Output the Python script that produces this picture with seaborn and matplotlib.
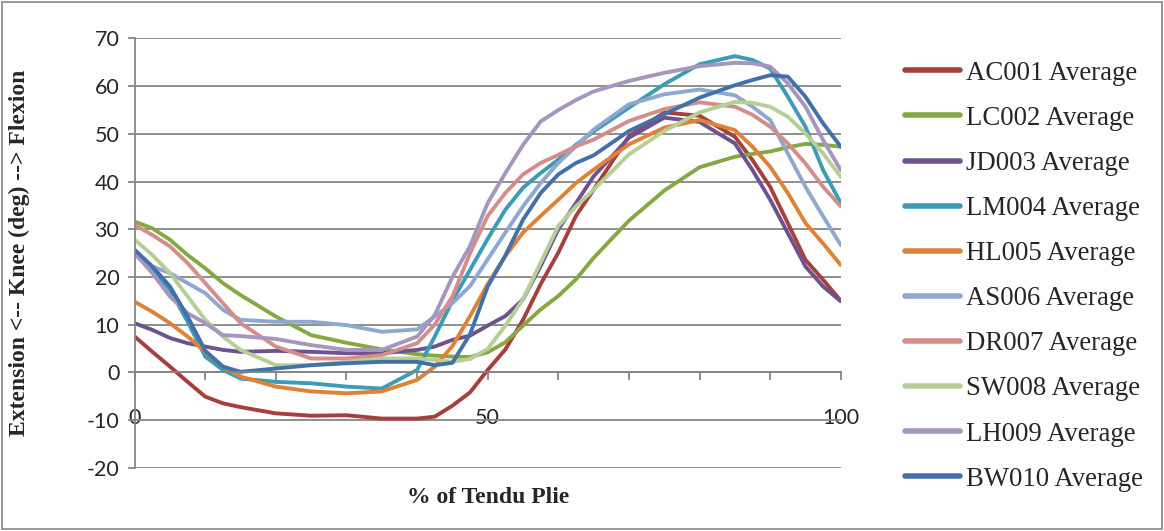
import matplotlib
matplotlib.use("Agg")
import matplotlib.pyplot as plt
import numpy as np
import pandas as pd
import seaborn as sns
from matplotlib.patches import Rectangle
from matplotlib.ticker import MultipleLocator

# % of tendu plie (denser sampling where the curves bend quickly)
PCT = [0, 2.5, 5, 7.5, 10, 12.5, 15, 20, 25, 30, 35, 40, 42.5, 45, 47.5, 50,
       52.5, 55, 57.5, 60, 62.5, 65, 70, 75, 80, 85, 87.5, 90, 92.5, 95,
       97.5, 100]

AC001 = [7.5, 4.3, 1.2, -2.0, -5.1, -6.5, -7.3, -8.6, -9.1, -9.0, -9.7, -9.7,
         -9.3, -7.0, -4.2, 0.5, 4.8, 11.0, 18.5, 25.1, 32.8, 38.3, 49.5, 54.5,
         53.8, 49.4, 44.5, 38.9, 31.3, 23.6, 19.4, 15.0]
LC002 = [31.6, 30.2, 27.8, 24.6, 21.8, 18.7, 16.2, 11.7, 7.8, 6.2, 4.8, 3.8,
         3.5, 3.3, 3.2, 4.2, 6.3, 9.8, 13.2, 16.0, 19.5, 24.0, 31.8, 38.1,
         43.0, 45.2, 45.8, 46.3, 47.2, 47.9, 47.7, 47.3]
JD003 = [10.3, 8.9, 7.2, 6.1, 5.4, 4.7, 4.3, 4.5, 4.3, 4.0, 4.0, 4.7,
         5.4, 6.8, 7.7, 9.8, 11.8, 15.3, 22.3, 30.0, 35.5, 41.1, 49.2, 53.4,
         52.5, 48.0, 42.4, 36.2, 29.2, 22.2, 18.0, 14.9]
LM004 = [25.0, 21.5, 17.3, 10.6, 3.3, 0.5, -1.3, -2.0, -2.3, -3.0, -3.4, 0.5,
         7.5, 15.0, 21.5, 28.0, 34.1, 38.7, 41.8, 44.6, 47.7, 50.5, 55.5, 60.4,
         64.6, 66.3, 65.5, 63.7, 57.8, 51.5, 42.4, 35.5]
HL005 = [14.8, 12.7, 10.3, 7.5, 4.3, 1.2, -0.9, -3.0, -4.0, -4.4, -4.0, -1.6,
         1.2, 5.5, 11.8, 18.5, 24.4, 29.3, 32.8, 36.2, 39.7, 42.5, 47.8, 51.3,
         52.9, 50.8, 47.3, 43.1, 37.6, 31.3, 27.0, 22.5]
AS006 = [24.6, 22.2, 20.8, 18.7, 16.6, 13.1, 11.0, 10.6, 10.6, 9.9, 8.5, 9.0,
         11.7, 14.5, 18.1, 23.7, 29.3, 34.8, 39.7, 43.9, 47.4, 50.9, 56.2, 58.3,
         59.3, 58.1, 55.7, 52.9, 45.9, 38.9, 32.7, 26.7]
DR007 = [30.9, 28.8, 26.4, 22.9, 18.7, 14.5, 10.3, 5.4, 2.9, 2.9, 3.6, 6.1,
         10.0, 15.9, 25.0, 32.8, 37.6, 41.5, 43.9, 45.6, 47.4, 48.8, 52.7, 55.2,
         56.6, 55.7, 54.0, 51.5, 48.0, 43.8, 38.9, 34.8]
SW008 = [27.8, 24.6, 20.8, 15.9, 11.0, 7.5, 4.7, 1.5, 1.5, 2.2, 2.9, 2.9,
         2.6, 2.2, 2.8, 4.9, 9.8, 15.3, 23.0, 30.7, 34.8, 38.3, 45.7, 50.6,
         54.5, 56.7, 56.5, 55.7, 53.6, 50.1, 45.9, 41.0]
LH009 = [25.0, 20.8, 15.9, 12.4, 10.3, 7.8, 7.6, 7.0, 5.7, 4.7, 4.7, 7.5,
         12.0, 20.0, 26.5, 35.5, 41.8, 47.7, 52.6, 55.0, 57.1, 58.9, 61.1, 62.8,
         64.2, 64.9, 64.8, 64.1, 60.6, 55.7, 48.7, 42.4]
BW010 = [25.7, 22.2, 18.0, 11.7, 4.5, 1.2, 0.1, 0.8, 1.5, 1.9, 2.2, 2.2,
         1.5, 2.0, 8.0, 18.0, 24.5, 32.0, 37.6, 41.5, 43.9, 45.5, 50.6, 54.1,
         57.6, 60.2, 61.3, 62.3, 62.0, 57.8, 52.2, 47.3]

SERIES = ["AC001 Average", "LC002 Average", "JD003 Average", "LM004 Average",
          "HL005 Average", "AS006 Average", "DR007 Average", "SW008 Average",
          "LH009 Average", "BW010 Average"]
VALUES = [AC001, LC002, JD003, LM004, HL005, AS006, DR007, SW008, LH009, BW010]
COLORS = ["#A5403C", "#86A844", "#6E528F", "#3C9CB5", "#DF8136",
          "#8EA8D0", "#D38E8C", "#B6CF96", "#A696BF", "#4370A8"]

GRID = "#868686"


def main():
    sns.set_style("white")
    plt.rcParams["font.family"] = ["Lato", "DejaVu Sans"]
    plt.rcParams["axes.unicode_minus"] = False

    df = pd.concat([
        pd.DataFrame({"pct": PCT, "knee": vals, "subject": name})
        for name, vals in zip(SERIES, VALUES)
    ])

    fig = plt.figure(figsize=(11.64, 5.31), dpi=100)
    ax = fig.add_axes([0.1157, 0.1192, 0.7223 - 0.1157, 0.9275 - 0.1192])

    sns.lineplot(data=df, x="pct", y="knee", hue="subject", hue_order=SERIES,
                 palette=COLORS, linewidth=2.8, ax=ax, legend=True,
                 solid_capstyle="round", solid_joinstyle="round", sort=False)

    ax.set_xlim(0, 100)
    ax.set_ylim(-20, 70)
    ax.yaxis.set_major_locator(MultipleLocator(10))
    ax.xaxis.set_major_locator(MultipleLocator(50))
    ax.xaxis.set_minor_locator(MultipleLocator(10))
    ax.grid(axis="y", color=GRID, linewidth=1.3)
    ax.grid(axis="x", visible=False)
    ax.set_axisbelow(True)

    for side in ["top", "right"]:
        ax.spines[side].set_visible(False)
    ax.spines["left"].set_color(GRID)
    ax.spines["left"].set_linewidth(1.3)
    ax.spines["bottom"].set_position(("data", 0))
    ax.spines["bottom"].set_color(GRID)
    ax.spines["bottom"].set_linewidth(1.3)

    ax.tick_params(axis="y", which="major", left=True, length=5, width=1.3,
                   color=GRID, labelsize=15.5, pad=6)
    ax.tick_params(axis="x", which="both", bottom=True, direction="out",
                   length=6, width=1.3, color=GRID)
    ax.tick_params(axis="x", which="major", labelsize=15.5, pad=20)

    ax.set_xlabel("% of Tendu Plie", family="Liberation Serif",
                  fontweight="bold", fontsize=17)
    ax.xaxis.set_label_coords(0.5, -0.045)
    ax.set_ylabel("Extension <-- Knee (deg) --> Flexion",
                  family="Liberation Serif", fontweight="bold", fontsize=17)
    ax.yaxis.set_label_coords(-0.148, 0.5)

    handles, labels = ax.get_legend_handles_labels()
    for h in handles:
        h.set_linewidth(4)
        h.set_solid_capstyle("round")
    ax.legend(handles, labels, loc="upper left", bbox_to_anchor=(0.757, 0.931),
              bbox_transform=fig.transFigure, frameon=False,
              prop={"family": "Liberation Serif", "size": 19.3},
              handlelength=2.05, handletextpad=0.2, labelspacing=0.75)

    fig.patches.append(Rectangle((0.002, 0.003), 0.996, 0.994,
                                 transform=fig.transFigure, fill=False,
                                 edgecolor=GRID, linewidth=1.2))

    fig.savefig("out.png", dpi=100)


if __name__ == "__main__":
    main()
